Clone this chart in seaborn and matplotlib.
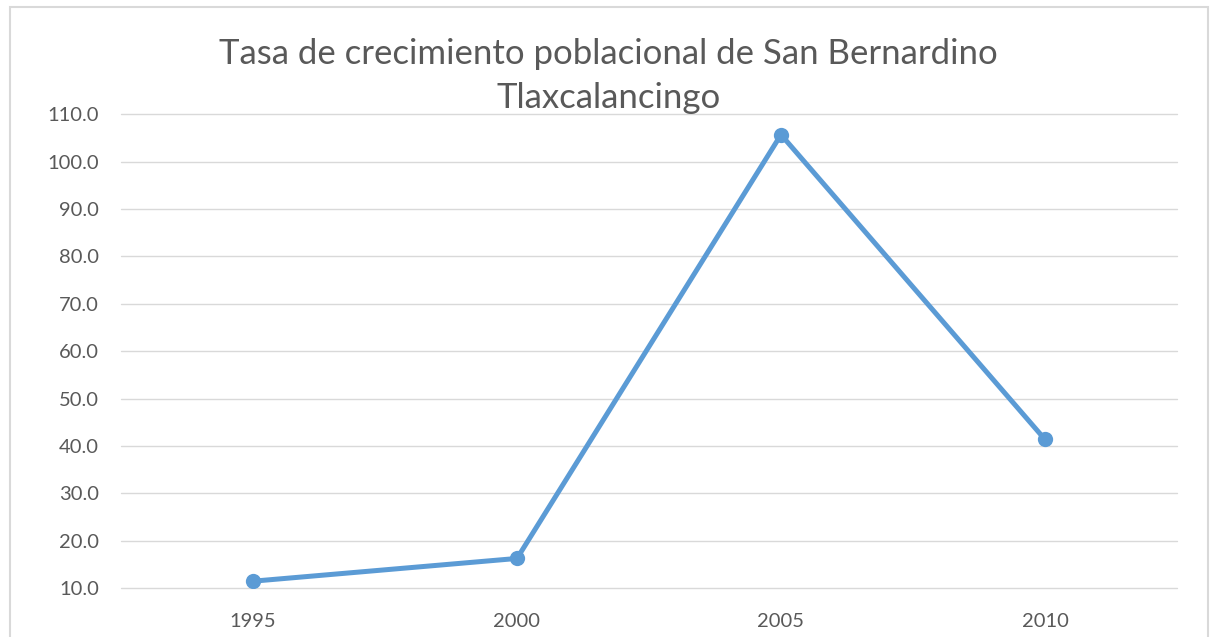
import matplotlib
matplotlib.use('Agg')
import matplotlib.pyplot as plt
from matplotlib.patches import Rectangle
import seaborn as sns
import pandas as pd

years = ['1995', '2000', '2005', '2010']
tasa = [11.5, 16.3, 105.7, 41.4]
y_ticks = [10, 20, 30, 40, 50, 60, 70, 80, 90, 100, 110]

sns.set_style('white')
plt.rcParams['font.family'] = ['Lato', 'DejaVu Sans']

grey = '#595959'
blue = '#5B9BD5'

fig = plt.figure(figsize=(12.17, 6.37), dpi=100)
ax = fig.add_axes([121 / 1217, 1 - 588.3 / 637, 1056 / 1217, 474 / 637])

df = pd.DataFrame({'year': years, 'tasa': tasa})
sns.lineplot(data=df, x='year', y='tasa', ax=ax, color=blue, linewidth=3.6,
             marker='o', markersize=11, markeredgewidth=0, sort=False)

ax.set_xlim(-0.5, len(years) - 0.5)
ax.set_ylim(10, 110)
ax.set_yticks(y_ticks)
ax.set_yticklabels([f'{v:.1f}' for v in y_ticks])
ax.yaxis.grid(True, color='#D9D9D9', linewidth=1)
ax.xaxis.grid(False)
ax.set_axisbelow(True)
for gl in ax.get_ygridlines():
    gl.set_clip_on(False)
for s in ax.spines.values():
    s.set_visible(False)
ax.tick_params(axis='y', length=0, pad=16, labelsize=14.5, labelcolor=grey)
ax.tick_params(axis='x', length=0, pad=18, labelsize=14.5, labelcolor=grey)
ax.set_xlabel('')
ax.set_ylabel('')

fig.text(0.5, 1 - 76 / 637, 'Tasa de crecimiento poblacional de San Bernardino\nTlaxcalancingo',
         ha='center', va='center', fontsize=25, color=grey, linespacing=1.5)

# outer chart border
fig.patches.append(Rectangle((10 / 1217, -0.05), 1198 / 1217, 1.05 - 7 / 637,
                             transform=fig.transFigure, fill=False,
                             edgecolor='#D9D9D9', linewidth=1.5))

fig.savefig('out.png', dpi=100)
